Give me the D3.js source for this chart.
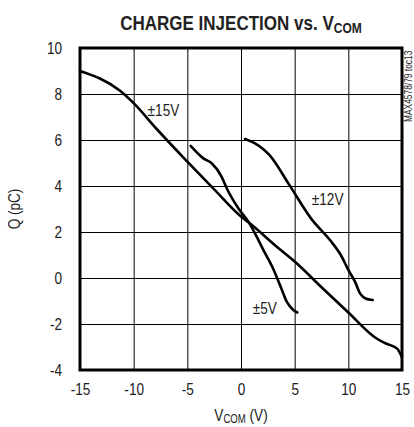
<!DOCTYPE html>
<html>
<head>
<meta charset="utf-8">
<script src="https://cdn.jsdelivr.net/npm/d3@7"></script>
<style>
  html, body { margin: 0; padding: 0; background: #fff; }
  svg { display: block; }
  text { font-family: "Liberation Sans", Arial, sans-serif; fill: #222; }
</style>
</head>
<body>
<script>
// ---- data ----
const xTicks = [-15, -10, -5, 0, 5, 10, 15];
const yTicks = [-4, -2, 0, 2, 4, 6, 8, 10];

const v15X = [-15, -11.3, -10, -7.9, -5, -2.5, 0, 0.7, 3.5, 5, 7.5, 10, 12.6, 13.5, 14.2, 14.6, 15];
const v15Q = [9.0, 8.15, 7.6, 6.5, 5.06, 3.85, 2.67, 2.42, 1.29, 0.72, -0.4, -1.5, -2.62, -2.85, -2.97, -3.1, -3.45];

const v12X = [0.37, 1.3, 2.08, 2.64, 4.5, 6.59, 8.29, 9.3, 10.0, 10.62, 11.09, 11.55, 12.27];
const v12Q = [6.04, 5.85, 5.6, 5.35, 4.05, 2.55, 1.65, 1.0, 0.35, -0.16, -0.67, -0.88, -0.96];

const v5X = [-4.69, -3.51, -2.73, -1.8, -1.33, -0.25, 0.68, 1.46, 2.08, 2.9, 3.63, 4.26, 4.87, 5.25];
const v5Q = [5.74, 5.2, 4.99, 4.4, 3.9, 3.03, 2.45, 1.8, 1.22, 0.5, -0.3, -1.03, -1.39, -1.5];

const seriesLabels = [
  { text: "±15V", x: -8.7, q: 7.3 },
  { text: "±12V", x: 6.6, q: 3.45 },
  { text: "±5V", x: 1.1, q: -1.3 }
];

// ---- layout ----
const W = 414, H = 427;
const L = 80, R = 402, T = 48, B = 370;
const K = 0.8; // horizontal condensing of text

const svg = d3.select("body").append("svg").attr("width", W).attr("height", H);

const x = d3.scaleLinear().domain([-15, 15]).range([L, R]);
const y = d3.scaleLinear().domain([-4, 10]).range([B, T]);

// grid + tick labels via axes
const gx = svg.append("g").attr("transform", `translate(0,${B})`)
  .call(d3.axisBottom(x).tickValues(xTicks).tickSize(-(B - T)).tickPadding(13));
const gy = svg.append("g").attr("transform", `translate(${L},0)`)
  .call(d3.axisLeft(y).tickValues(yTicks).tickSize(-(R - L)).tickPadding(17));

[gx, gy].forEach(g => {
  g.select(".domain").remove();
  g.selectAll("line").attr("stroke", "#000").attr("stroke-width", 1);
  g.selectAll("text").attr("font-size", 17)
    .attr("font-family", '"Liberation Sans", Arial, sans-serif')
    .attr("fill", "#222")
    .text(d => d < 0 ? "-" + Math.abs(d) : d);
});
// condense tick labels horizontally
gx.selectAll("text").attr("transform", `scale(${K},1)`);
gy.selectAll("text").attr("x", -18 / K).attr("transform", `scale(${K},1)`);

// frame
svg.append("rect").attr("x", L).attr("y", T).attr("width", R - L).attr("height", B - T)
  .attr("fill", "none").attr("stroke", "#000").attr("stroke-width", 3);

// curves
const line = d3.line().x(d => x(d[0])).y(d => y(d[1])).curve(d3.curveMonotoneX);
const series = [d3.zip(v15X, v15Q), d3.zip(v12X, v12Q), d3.zip(v5X, v5Q)];
svg.append("g").selectAll("path").data(series).join("path")
  .attr("d", line).attr("fill", "none").attr("stroke", "#000")
  .attr("stroke-width", 2.6).attr("stroke-linejoin", "round").attr("stroke-linecap", "round");

// series labels
svg.append("g").selectAll("text").data(seriesLabels).join("text")
  .attr("transform", d => `translate(${x(d.x)},${y(d.q)}) scale(${K},1)`)
  .attr("font-size", 17).attr("dy", "0.35em")
  .text(d => d.text);

// title
const title = svg.append("text").attr("transform", `translate(${(L + R) / 2},30) scale(0.83,1)`)
  .attr("text-anchor", "middle").attr("font-size", 20.5).attr("font-weight", "bold").attr("fill", "#000");
title.append("tspan").text("CHARGE INJECTION vs. V");
title.append("tspan").attr("font-size", 14.5).attr("dy", 2.5).text("COM");

// x axis label
const xl = svg.append("text").attr("transform", `translate(${(L + R) / 2},421) scale(${K},1)`)
  .attr("text-anchor", "middle").attr("font-size", 17);
xl.append("tspan").text("V");
xl.append("tspan").attr("font-size", 12).attr("dy", 2).text("COM");
xl.append("tspan").attr("dy", -2).text(" (V)");

// y axis label
svg.append("text").attr("transform", `translate(20,${(T + B) / 2}) rotate(-90) scale(${K},1)`)
  .attr("text-anchor", "middle").attr("font-size", 17).text("Q (pC)");

// side note
svg.append("text").attr("transform", `translate(412,122) rotate(-90) scale(0.8,1)`)
  .attr("text-anchor", "start").attr("font-size", 10.5).attr("fill", "#444")
  .text("MAX4578/79 toc13");
</script>
</body>
</html>
